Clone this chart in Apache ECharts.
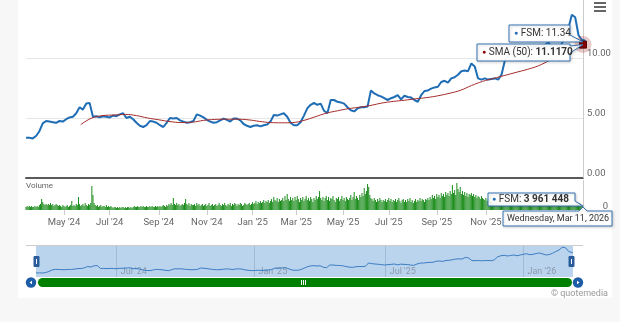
<!DOCTYPE html>
<html><head><meta charset="utf-8">
<script src="https://cdn.jsdelivr.net/npm/echarts@6/dist/echarts.min.js"></script>
<style>
html,body{margin:0;padding:0;background:#f7f7f7;width:620px;height:322px;overflow:hidden;}
#card{position:absolute;left:18px;top:0;width:594px;height:298px;background:#fff;}
#c{position:absolute;left:0;top:0;width:620px;height:322px;}
</style>
</head><body><div id="card"></div><div id="c"></div>
<script>
// ---------- data ----------
const TICKER = 'FSM';
const SMA_NAME = 'SMA (50)';
const startDate = '2024-03-13';
const endDate = '2026-03-11';
const holidays = ['2024-03-29','2024-05-27','2024-06-19','2024-07-04','2024-09-02','2024-11-28','2024-12-25',
  '2025-01-01','2025-01-09','2025-01-20','2025-02-17','2025-04-18','2025-05-26','2025-06-19','2025-07-04',
  '2025-09-01','2025-11-27','2025-12-25','2026-01-01','2026-01-19','2026-02-16'];
// closing price, sampled every 3 trading days (last value = last trading day)
const PRICE_STEP = 3;
const priceValues = [
 3.35,3.35,3.3,3.5,3.9,4.55,4.75,4.7,4.65,4.6,
 4.75,4.7,4.9,5.05,5.1,5.4,5.9,5.7,6.2,6.25,
 5.1,5.15,5.05,5.15,5.1,5.05,5.2,5.15,5.3,5.4,
 5.0,5.1,4.9,4.6,4.35,4.25,4.4,4.75,4.7,4.6,
 4.4,4.25,4.6,5.0,4.95,5.0,4.8,4.7,4.6,4.65,
 4.75,5.3,5.2,5.05,4.85,4.7,4.6,4.65,4.8,4.95,
 4.85,4.7,4.95,4.95,4.8,4.5,4.35,4.25,4.35,4.4,
 4.3,4.4,4.45,4.7,5.25,5.2,5.3,5.4,5.1,4.6,
 4.4,4.4,4.65,5.2,5.8,6.1,6.25,6.1,6.2,5.6,
 5.4,6.5,6.5,6.35,6.3,6.2,5.9,5.65,5.55,5.8,
 5.9,5.9,5.95,7.3,7.05,6.9,6.8,6.65,6.5,6.65,
 6.75,6.9,6.55,6.85,6.75,6.7,6.5,6.35,6.9,7.25,
 7.3,7.45,7.55,7.6,8.0,8.1,7.95,8.3,8.4,8.6,
 8.9,8.95,8.9,9.55,9.3,8.3,8.2,8.3,8.2,8.25,
 8.3,8.2,8.6,9.8,10.2,10.4,10.1,10.3,10.5,10.2,
 10.5,10.8,11.0,10.6,10.8,11.1,11.3,10.9,10.5,10.7,
 11.2,11.9,12.5,13.6,13.4,11.9,11.5,
 11.34];
// 50-day simple moving average, read every 10 trading days from day 49
const SMA_START = 49, SMA_STEP = 10;
const smaValues = [
 4.45,5.0,5.2,5.25,5.3,5.2,5.0,4.85,4.7,4.62,
 4.65,4.8,4.88,4.9,4.9,4.85,4.72,4.62,4.6,4.62,
 4.8,5.1,5.4,5.6,5.78,5.9,6.05,6.25,6.38,6.48,
 6.6,6.7,6.85,7.05,7.3,7.7,8.05,8.3,8.55,8.8,
 9.05,9.35,9.8,10.3,10.75,11.117];
// daily volume, millions of shares
const volumeValues = [
 3,4,3,4,3,4,3,3,4,3, 4,3,5,6,11,8,6,5,6,5, 6,5,7,5,6,4,5,6,5,4, 5,4,3,5,4,3,4,5,3,4,
 5,9,4,5,4,6,5,13,6,4, 5,6,4,7,5,4,6,5,7,24, 15,7,5,4,5,3,4,5,3,4, 4,3,5,3,4,3,4,3,2,3,
 3,2,3,2,3,2,3,3,2,3, 2,3,3,2,3,2,3,4,3,3, 4,3,3,4,3,4,3,3,4,3, 3,4,3,4,3,3,4,3,4,3,
 4,3,4,5,4,3,5,4,6,5, 7,5,12,6,5,7,5,6,4,5, 6,5,7,11,6,5,7,4,6,5, 5,6,4,7,5,6,4,5,6,4,
 5,6,4,5,7,4,5,6,4,5, 6,4,5,7,5,4,6,5,7,5, 4,6,5,7,4,6,5,7,6,4, 6,5,7,6,4,5,7,6,5,6,
 7,5,6,8,6,7,9,6,8,7, 9,7,8,10,7,9,8,10,7,9, 11,8,13,10,9,12,8,11,9,10, 12,9,14,10,16,11,9,13,10,12,
 9,13,10,14,11,8,12,10,13,9, 11,14,10,12,9,13,11,8,12,10, 14,11,13,19,12,10,13,9,12,14, 10,13,9,12,11,14,10,8,12,11,
 13,9,11,14,10,12,9,13,11,10, 12,15,10,13,18,11,14,12,10,15, 13,17,14,22,16,19,26,23,15,12, 11,9,12,10,8,11,9,12,10,8,
 10,9,11,8,10,12,9,11,8,10, 9,11,8,10,12,9,7,10,11,8, 10,8,11,9,12,8,10,7,9,11, 8,10,9,12,9,11,10,8,11,10,
 12,10,13,11,15,12,14,11,16,13, 15,12,17,14,16,13,18,15,17,14, 19,16,25,17,20,15,27,21,18,23, 16,19,15,18,14,17,13,16,15,17,
 14,16,13,15,12,14,13,11,14,12, 11,10,12,9,11,10,12,9,10,8, 10,9,11,8,10,9,7,10,8,9, 9,7,10,8,9,11,8,9,10,7,
 8,10,9,7,10,8,11,9,8,10, 9,11,8,10,12,9,8,10,11,9, 10,8,9,11,8,10,9,7,10,8, 9,11,8,10,9,7,10,8,9,11,
 8,10,7,9,8,6,8,6,7,8, 6,7,5,8,6,5,7,4,5,3.961448];

// ---------- helpers ----------
const MONTHS = ['Jan','Feb','Mar','Apr','May','Jun','Jul','Aug','Sep','Oct','Nov','Dec'];
const DAYS = ['Sunday','Monday','Tuesday','Wednesday','Thursday','Friday','Saturday'];
function tradingDays(){
  const out = [];
  let t = Date.parse(startDate + 'T00:00:00Z');
  const end = Date.parse(endDate + 'T00:00:00Z');
  while (t <= end) {
    const d = new Date(t), wd = d.getUTCDay(), s = d.toISOString().slice(0,10);
    if (wd !== 0 && wd !== 6 && holidays.indexOf(s) < 0) out.push(s);
    t += 86400000;
  }
  return out;
}
const dates = tradingDays();
const N = dates.length;
const pricePairs = priceValues.map((v,j)=>[Math.min(j*PRICE_STEP, N-1), v]);
const smaPairs = smaValues.map((v,j)=>[Math.min(SMA_START + j*SMA_STEP, N-1), v]);
function monthStart(i){ return i>0 && dates[i].slice(0,7)!==dates[i-1].slice(0,7); }
function oddMonthStart(i){ return monthStart(i) && (+dates[i].slice(5,7))%2===1; }
function halfYearStart(i){ const m=+dates[i].slice(5,7); return monthStart(i) && (m===1||m===7); }
function fmtMonth(s){ return MONTHS[+s.slice(5,7)-1]+" '"+s.slice(2,4); }
function fmtLong(s){ const d=new Date(s+'T00:00:00Z'); return DAYS[d.getUTCDay()]+', '+MONTHS[d.getUTCMonth()]+' '+d.getUTCDate()+', '+d.getUTCFullYear(); }
function fmtInt(v){ return String(Math.round(v)).replace(/\B(?=(\d{3})+(?!\d))/g,' '); }

const FONT = 'Roboto, "Noto Sans", sans-serif';
const BLUE = '#1f6db5', RED = '#a52a2a', GREEN = '#1a8c1a', BOX = '#3572b0';
const lastDate = dates[N-1];
const lastPrice = priceValues[priceValues.length-1];
const lastSma = smaValues[smaValues.length-1];
const lastVol = volumeValues[volumeValues.length-1];

const chart = echarts.init(document.getElementById('c'), null, {renderer:'canvas'});
const crossLine = {silent:true, symbol:'none', label:{show:false}, lineStyle:{color:'#cccccc', width:1, type:'solid'}, data:[{xAxis:N-1}], animation:false};

chart.setOption({
  backgroundColor:'transparent',
  animation:false,
  textStyle:{fontFamily:FONT},
  grid:[
    {left:26, right:37, top:-2, height:180, outerBoundsMode:'none', containLabel:false},
    {left:26, right:37, top:180, height:30, outerBoundsMode:'none', containLabel:false},
    {left:36, right:47, top:245, height:32, outerBoundsMode:'none', containLabel:false, show:true, backgroundColor:'#bad4ee', borderWidth:0}
  ],
  xAxis:[
    {type:'category', gridIndex:0, data:dates, boundaryGap:false,
     axisLine:{show:true, lineStyle:{color:'#5a5a5a', width:2}}, axisTick:{show:false}, axisLabel:{show:false}, splitLine:{show:false}},
    {type:'category', gridIndex:1, data:dates, boundaryGap:false,
     axisLine:{show:false}, axisTick:{show:true, interval:(i)=>oddMonthStart(i), length:5, lineStyle:{color:'#cccccc'}},
     axisLabel:{show:true, interval:(i)=>oddMonthStart(i), formatter:(v)=>fmtMonth(v), color:'#666', fontSize:9.5, margin:8, fontFamily:FONT},
     splitLine:{show:false}},
    {type:'category', gridIndex:2, data:dates, boundaryGap:false,
     axisLine:{show:false}, axisTick:{show:false},
     axisLabel:{show:true, inside:true, interval:(i)=>halfYearStart(i), formatter:(v)=>fmtMonth(v), align:'left', padding:[0,0,0,4], margin:1, color:'#8c9aab', fontSize:9, fontFamily:FONT},
     splitLine:{show:true, interval:(i)=>halfYearStart(i), lineStyle:{color:'rgba(90,110,140,0.25)', width:1}}}
  ],
  yAxis:[
    {type:'value', gridIndex:0, position:'right', min:0, max:15, interval:5,
     axisLine:{show:false}, axisTick:{show:false},
     splitLine:{show:true, lineStyle:{color:'#e6e6e6', width:1}},
     axisLabel:{show:true, showMaxLabel:false, formatter:(v)=>v.toFixed(2), color:'#666', fontSize:9.5, lineHeight:8, margin:4, align:'left', verticalAlign:'bottom', fontFamily:FONT}},
    {type:'value', gridIndex:1, position:'right', min:0, max:30, interval:30,
     axisLine:{show:false}, axisTick:{show:false}, splitLine:{show:false},
     axisLabel:{show:true, showMaxLabel:false, formatter:(v)=>v===0?'0':'', color:'#666', fontSize:9.5, lineHeight:7, margin:25, align:'right', verticalAlign:'bottom', fontFamily:FONT}},
    {type:'value', gridIndex:2, min:1.7, max:14.5, show:false}
  ],
  series:[
    {name:TICKER, type:'line', xAxisIndex:0, yAxisIndex:0, data:pricePairs, showSymbol:false, z:3,
     lineStyle:{color:BLUE, width:2}, itemStyle:{color:BLUE}, markLine:crossLine},
    {name:SMA_NAME, type:'line', xAxisIndex:0, yAxisIndex:0, data:smaPairs, showSymbol:false, smooth:0.4, z:4,
     lineStyle:{color:RED, width:1}, itemStyle:{color:RED},
     markPoint:{silent:true, animation:false, label:{show:false}, data:[
       {coord:[N-1,lastSma], symbol:'circle', symbolSize:17, itemStyle:{color:'rgba(165,42,42,0.25)'}},
       {coord:[N-1,lastPrice], symbol:'circle', symbolSize:6, itemStyle:{color:BLUE}},
       {coord:[N-1,lastSma], symbol:'rect', symbolSize:7, itemStyle:{color:'#8b0000', borderColor:'#5a0000', borderWidth:1}}
     ]}},
    {name:'Volume', type:'bar', xAxisIndex:1, yAxisIndex:1, data:volumeValues, barWidth:'62%',
     itemStyle:{color:GREEN}, markLine:crossLine},
    {name:'nav', type:'line', xAxisIndex:2, yAxisIndex:2, data:pricePairs, showSymbol:false,
     lineStyle:{color:'#3a7cc2', width:1}}
  ]
});

// ---------- annotations (tooltips, navigator controls) ----------
const pP = chart.convertToPixel({xAxisIndex:0, yAxisIndex:0}, [N-1, lastPrice]);
const pS = chart.convertToPixel({xAxisIndex:0, yAxisIndex:0}, [N-1, lastSma]);
const pV = chart.convertToPixel({xAxisIndex:1, yAxisIndex:1}, [N-1, lastVol]);
const pB = chart.convertToPixel({xAxisIndex:1, yAxisIndex:1}, [N-1, 0]);
const ax = pP[0];

function callout(pts, z){
  return {type:'polygon', z:z, shape:{points:pts}, style:{fill:'rgba(255,255,255,0.96)', stroke:BOX, lineWidth:1, shadowBlur:3, shadowColor:'rgba(0,0,0,0.18)', shadowOffsetX:1, shadowOffsetY:1}};
}
function label(x, y, rich, text, z, size){
  return {type:'text', z:z, x:x, y:y, style:{text:text, rich:rich, fontFamily:FONT, fontSize:size||10, fill:'#333', verticalAlign:'middle', align:'left'}};
}
const g = [];
// FSM price box
{ const x1=ax-13, x0=x1-61, y1=Math.round(pP[1]), y0=y1-17;
  g.push(callout([[x0,y0],[x1,y0],[x1,y1-7],[ax,pP[1]],[x1,y1],[x0,y1]], 20));
  g.push(label(x0+5, (y0+y1)/2, {d:{fill:BLUE, fontSize:7, fontFamily:FONT}, t:{fill:'#333', fontSize:10, fontFamily:FONT}}, '{d|●} {t|'+TICKER+': '+lastPrice.toFixed(2)+'}', 21)); }
// SMA box
{ const x1=ax-13, x0=x1-93, y0=Math.round(pS[1])-1, y1=y0+17;
  g.push(callout([[x0,y0],[x1,y0],[x1,y0+2],[ax,pS[1]],[x1,y0+9],[x1,y1],[x0,y1]], 22));
  g.push(label(x0+5, (y0+y1)/2, {d:{fill:'#8b0000', fontSize:7, fontFamily:FONT}, t:{fill:'#333', fontSize:10, fontFamily:FONT}, b:{fill:'#333', fontSize:10, fontWeight:'bold', fontFamily:FONT}}, '{d|●} {t|'+SMA_NAME+': }{b|'+lastSma.toFixed(4)+'}', 23)); }
// volume box
{ const x1=ax-8, x0=x1-87, y1=Math.round(pB[1])-4, y0=y1-13;
  g.push(callout([[x0,y0],[x1,y0],[x1,y1-5],[ax,pV[1]],[x1,y1],[x0,y1]], 24));
  g.push(label(x0+4, (y0+y1)/2, {d:{fill:BLUE, fontSize:7, fontFamily:FONT}, t:{fill:'#333', fontSize:10, fontFamily:FONT}, b:{fill:'#333', fontSize:10, fontWeight:'bold', fontFamily:FONT}}, '{d|●} {t|'+TICKER+': }{b|'+fmtInt(lastVol*1e6)+'}', 25)); }
// date label box
{ const y0=Math.round(pB[1])+1, y1=y0+15, x0=ax-80, x1=ax+29;
  g.push(callout([[x0,y0],[ax-4,y0],[ax,y0-4],[ax+4,y0],[x1,y0],[x1,y1],[x0,y1]], 26));
  g.push(label(x0+4, (y0+y1)/2+0.5, null, fmtLong(lastDate), 27, 9)); }

// Volume caption
g.push({type:'text', x:26, y:186, z:5, style:{text:'Volume', fontFamily:FONT, fontSize:8, fill:'#666', verticalAlign:'middle'}});
// menu icon
[3,7,11].forEach(y=>g.push({type:'rect', z:5, shape:{x:594, y:y-1, width:12, height:2}, style:{fill:'#666'}}));
// navigator outline
g.push({type:'line', z:5, shape:{x1:26, y1:245.5, x2:583, y2:245.5}, style:{stroke:'#cccccc', lineWidth:1}});
// navigator handles
[36.5, 571.5].forEach(x=>{
  g.push({type:'rect', z:6, shape:{x:x-2.5, y:256.5, width:5, height:10}, style:{fill:'#2b5c9b', stroke:'#2b5c9b', lineWidth:1}});
  g.push({type:'line', z:7, shape:{x1:x, y1:259, x2:x, y2:264}, style:{stroke:'#ffffff', lineWidth:1}});
});
// scrollbar
g.push({type:'rect', z:5, shape:{x:38, y:278, width:534, height:9, r:4.5}, style:{fill:'#008000'}});
[301.5,303.5,305.5].forEach(x=>g.push({type:'line', z:6, shape:{x1:x, y1:280, x2:x, y2:285}, style:{stroke:'#ffffff', lineWidth:1}}));
g.push({type:'circle', z:6, shape:{cx:31, cy:282.5, r:5.2}, style:{fill:'#1d5ca6'}});
g.push({type:'circle', z:6, shape:{cx:578, cy:282.5, r:5.2}, style:{fill:'#1d5ca6'}});
g.push({type:'polygon', z:7, shape:{points:[[29.5,282.5],[32,280.8],[32,284.2]]}, style:{fill:'#ffffff'}});
g.push({type:'polygon', z:7, shape:{points:[[579.5,282.5],[577,280.8],[577,284.2]]}, style:{fill:'#ffffff'}});
// credit
g.push({type:'text', z:5, x:608, y:294, style:{text:'© quotemedia', fontFamily:FONT, fontSize:9, fill:'#999', align:'right', verticalAlign:'middle'}});

chart.setOption({graphic:{elements:g}});
</script>
</body></html>
